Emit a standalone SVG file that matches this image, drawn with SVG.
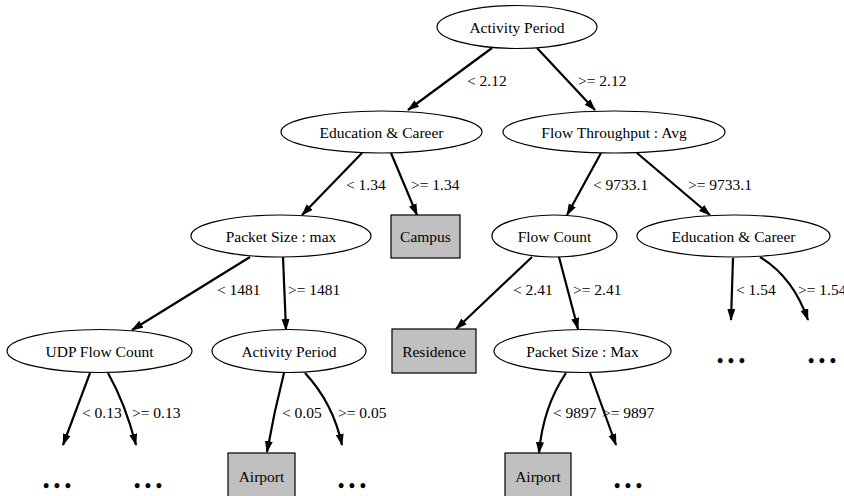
<svg xmlns="http://www.w3.org/2000/svg" width="844" height="496" viewBox="0 0 844 496">
<style>
.n{fill:#fff;stroke:#000;stroke-width:1.2}
.b{fill:#c0c0c0;stroke:#000;stroke-width:1.2}
text{font-family:'Liberation Serif','Times New Roman',Tinos,'DejaVu Serif',serif;font-size:15.5px;fill:#000}
.c{text-anchor:middle}
.d{text-anchor:middle;font-size:18px;font-weight:bold}
.e{fill:none;stroke:#000;stroke-width:2.2;marker-end:url(#ah)}
</style>
<defs>
<marker id="ah" markerUnits="userSpaceOnUse" markerWidth="12" markerHeight="10" refX="11" refY="4" orient="auto">
<path d="M0,0 L12,4 L0,8 z" fill="#000"/>
</marker>
</defs>
<rect width="844" height="496" fill="#fff"/>
<g id="edges">
<path class="e" d="M492,48 L408,110"/>
<path class="e" d="M537,48 L595,110"/>
<path class="e" d="M362,153 L302,215"/>
<path class="e" d="M391,153 L417,215"/>
<path class="e" d="M601,153 L567,215"/>
<path class="e" d="M637,153 L710,215"/>
<path class="e" d="M250,257 L132,330"/>
<path class="e" d="M283,257 L286,330"/>
<path class="e" d="M532,257 L456,329"/>
<path class="e" d="M559,257 L578,329"/>
<path class="e" d="M733,258 L731,320"/>
<path class="e" d="M760,257 Q793,277 808,320"/>
<path class="e" d="M90,373 Q78,405 63,445"/>
<path class="e" d="M108,373 Q125,403 136,445"/>
<path class="e" d="M284,373 Q274,412 267,452"/>
<path class="e" d="M305,373 Q333,403 342,445"/>
<path class="e" d="M566,373 Q543,407 539,453"/>
<path class="e" d="M590,373 L616,445"/>
<text x="467" y="86">&lt; 2.12</text>
<text x="578" y="86">&gt;= 2.12</text>
<text x="346" y="190">&lt; 1.34</text>
<text x="411" y="190">&gt;= 1.34</text>
<text x="593" y="190">&lt; 9733.1</text>
<text x="688" y="190">&gt;= 9733.1</text>
<text x="217" y="295">&lt; 1481</text>
<text x="288" y="295">&gt;= 1481</text>
<text x="513" y="295">&lt; 2.41</text>
<text x="573" y="295">&gt;= 2.41</text>
<text x="736" y="295">&lt; 1.54</text>
<text x="798" y="295">&gt;= 1.54</text>
<text x="82" y="418">&lt; 0.13</text>
<text x="132" y="418">&gt;= 0.13</text>
<text x="282" y="418">&lt; 0.05</text>
<text x="338" y="418">&gt;= 0.05</text>
<text x="553" y="418">&lt; 9897</text>
<text x="602" y="418">&gt;= 9897</text>
</g>
<g id="root"><ellipse class="n" cx="517" cy="27" rx="80" ry="21.5"/><text class="c" x="517" y="32.5">Activity Period</text></g>
<g id="edu1"><ellipse class="n" cx="381.5" cy="132" rx="100.5" ry="21"/><text class="c" x="381.5" y="137.5">Education &amp; Career</text></g>
<g id="flowtp"><ellipse class="n" cx="614" cy="132" rx="111" ry="21"/><text class="c" x="614" y="137.5">Flow Throughput : Avg</text></g>
<g id="pktmax"><ellipse class="n" cx="281" cy="236" rx="90" ry="21"/><text class="c" x="281" y="241.5">Packet Size : max</text></g>
<g id="campus"><rect class="b" x="391" y="215" width="69" height="43"/><text class="c" x="425.5" y="241.5">Campus</text></g>
<g id="flowcount"><ellipse class="n" cx="554.5" cy="236" rx="62.5" ry="21"/><text class="c" x="554.5" y="241.5">Flow Count</text></g>
<g id="edu2"><ellipse class="n" cx="733.5" cy="236" rx="96.5" ry="21"/><text class="c" x="733.5" y="241.5">Education &amp; Career</text></g>
<g id="udp"><ellipse class="n" cx="99.5" cy="351" rx="92.5" ry="21.5"/><text class="c" x="99.5" y="356.5">UDP Flow Count</text></g>
<g id="act2"><ellipse class="n" cx="289" cy="351" rx="77" ry="21.5"/><text class="c" x="289" y="356.5">Activity Period</text></g>
<g id="residence"><rect class="b" x="392" y="329" width="84" height="44"/><text class="c" x="434" y="356.5">Residence</text></g>
<g id="pktMax"><ellipse class="n" cx="582.5" cy="351" rx="88.5" ry="21.5"/><text class="c" x="582.5" y="356.5">Packet Size : Max</text></g>
<g id="airport1"><rect class="b" x="228" y="453" width="67" height="46"/><text class="c" x="261.5" y="482">Airport</text></g>
<g id="airport2"><rect class="b" x="505" y="453" width="66" height="46"/><text class="c" x="538" y="482">Airport</text></g>
<g id="dots1"><text class="d" x="57" y="492">• • •</text></g>
<g id="dots2"><text class="d" x="148" y="492">• • •</text></g>
<g id="dots3"><text class="d" x="352" y="492">• • •</text></g>
<g id="dots4"><text class="d" x="628" y="492">• • •</text></g>
<g id="dots5"><text class="d" x="731" y="367">• • •</text></g>
<g id="dots6"><text class="d" x="822" y="367">• • •</text></g>
</svg>
